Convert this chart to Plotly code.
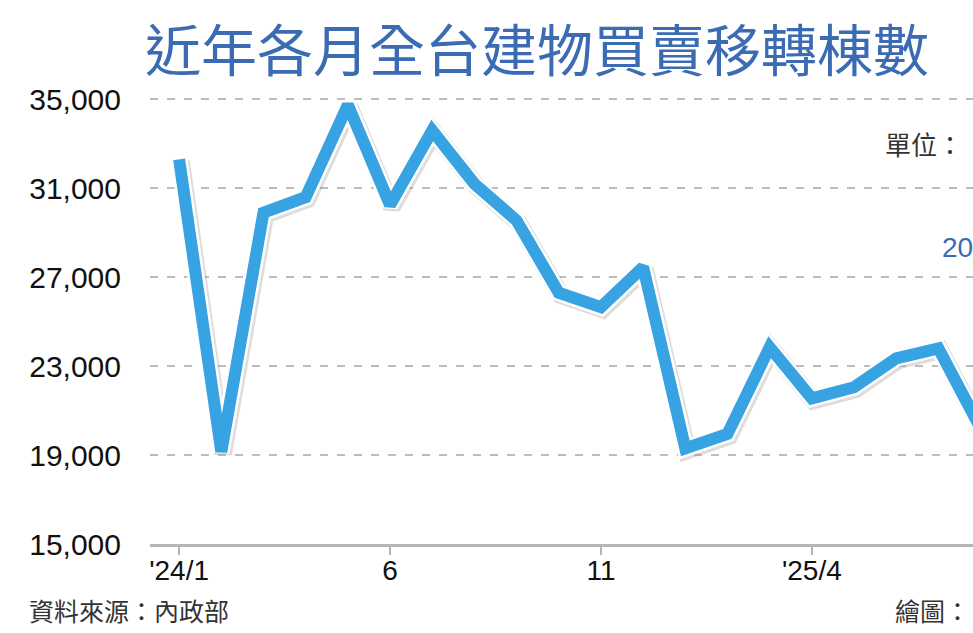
import plotly.graph_objects as go

# 月份（'24/1 ~ '25/8）
meses = ["'24/1", "2", "3", "4", "5", "6", "7", "8", "9", "10", "11", "12",
         "'25/1", "2", "3", "'25/4", "5", "6", "7", "8"]
# 建物買賣移轉棟數
valores = [32300, 19150, 29900, 30600, 34750, 30250, 33600, 31200, 29550, 26300,
           25650, 27450, 19300, 19950, 23850, 21550, 22050, 23350, 23800, 20200]

ticks_y = [15000, 19000, 23000, 27000, 31000, 35000]
ticks_x_pos = [0, 5, 10, 15]
ticks_x_txt = ["'24/1", "6", "11", "'25/4"]

AZUL_LINEA = '#37A3E2'
AZUL_TITULO = '#3A6BB3'
FUENTE_CJK = 'Noto Sans CJK TC'

x = list(range(len(valores)))

fig = go.Figure()

# sombra, borde blanco y línea principal
fig.add_trace(go.Scatter(x=[i + 0.04 for i in x], y=[v - 90 for v in valores], mode='lines',
                         line=dict(color='rgba(150,140,130,0.3)', width=18), hoverinfo='skip'))
fig.add_trace(go.Scatter(x=x, y=valores, mode='lines',
                         line=dict(color='white', width=17), hoverinfo='skip'))
fig.add_trace(go.Scatter(x=x, y=valores, mode='lines',
                         line=dict(color=AZUL_LINEA, width=12)))

fig.update_layout(
    width=973, height=633,
    margin=dict(l=150, r=0, t=86, b=89),
    showlegend=False,
    plot_bgcolor='white',
    paper_bgcolor='white',
    font=dict(family='Liberation Sans', size=28, color='#111'),
)

fig.update_xaxes(
    range=[-0.69, 18.82],
    tickmode='array', tickvals=ticks_x_pos, ticktext=ticks_x_txt,
    showgrid=False, zeroline=False,
    showline=True, linecolor='#b5b5b5', linewidth=3,
    ticks='outside', ticklen=8, tickwidth=2, tickcolor='#b5b5b5',
    ticklabelstandoff=-9,
    tickfont=dict(size=28, color='#111'),
)

fig.update_yaxes(
    range=[15000, 35600],
    tickmode='array', tickvals=ticks_y,
    tickformat=',d',
    showgrid=True, gridcolor='#bdbdbd', gridwidth=1.5, griddash='8px,9px',
    zeroline=False, showline=False,
    ticks='', ticklabelstandoff=28,
    tickfont=dict(size=30, color='#111'),
)

# textos (posiciones en píxeles, convertidas abajo)
fig.add_annotation(text='近年各月全台建物買賣移轉棟數', x=537, y=46, showarrow=False,
                   xanchor='center', yanchor='middle',
                   font=dict(family=FUENTE_CJK, size=56, color=AZUL_TITULO))
fig.add_annotation(text='單位：', x=883, y=143, showarrow=False, xanchor='left', yanchor='middle',
                   font=dict(family=FUENTE_CJK, size=26, color='#333'))
fig.add_annotation(text='20', x=940, y=247, showarrow=False, xanchor='left', yanchor='middle',
                   font=dict(family='Liberation Sans', size=28, color=AZUL_TITULO))
fig.add_annotation(text='資料來源：內政部', x=27, y=610, showarrow=False, xanchor='left', yanchor='middle',
                   font=dict(family=FUENTE_CJK, size=25, color='#333'))
fig.add_annotation(text='繪圖：', x=893, y=610, showarrow=False, xanchor='left', yanchor='middle',
                   font=dict(family=FUENTE_CJK, size=25, color='#333'))

ancho_plot = 973 - 150
alto_plot = 633 - 86 - 89
for a in fig.layout.annotations:
    a.x = (a.x - 150) / ancho_plot
    a.xref = 'paper'
    a.y = (633 - 89 - a.y) / alto_plot
    a.yref = 'paper'

fig.write_html("out.html", config={'displayModeBar': False},
               post_script="document.body.style.margin='0';")
